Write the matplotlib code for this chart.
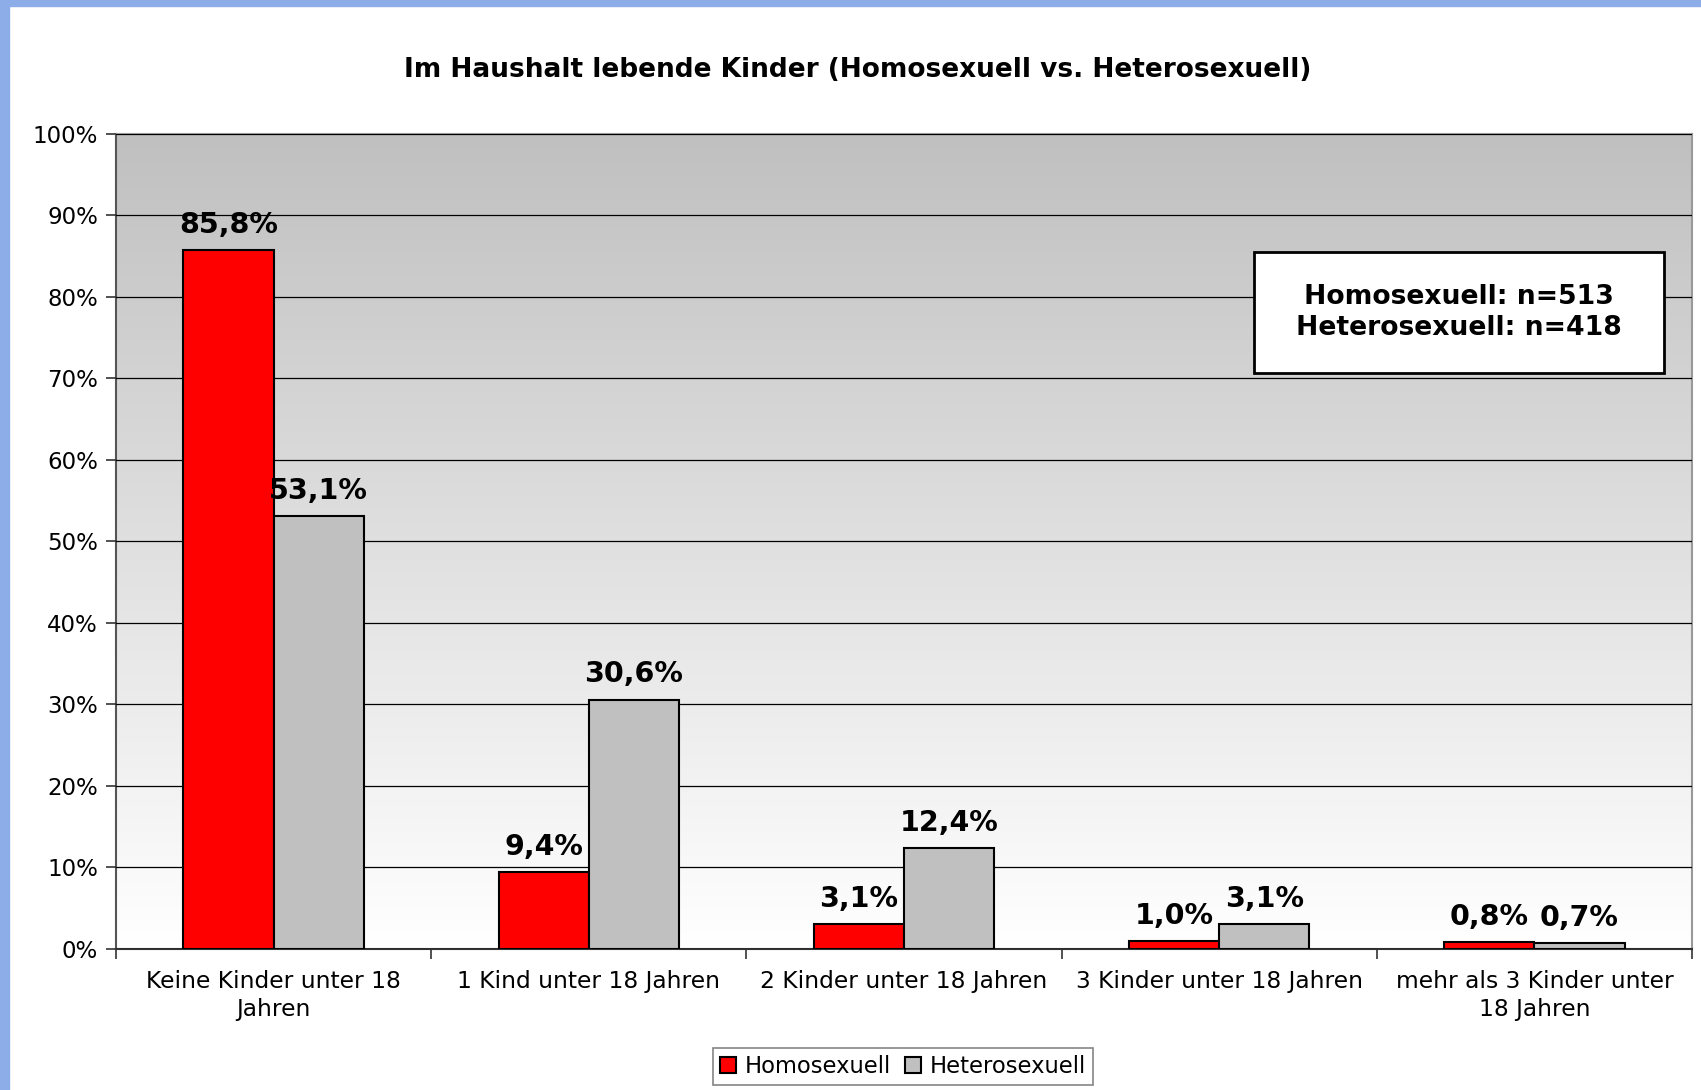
import numpy as np
import matplotlib
matplotlib.use("Agg")
from matplotlib import pyplot as plt
from matplotlib.patches import Rectangle

# data
categories = ["Keine Kinder unter 18\nJahren", "1 Kind unter 18 Jahren", "2 Kinder unter 18 Jahren",
              "3 Kinder unter 18 Jahren", "mehr als 3 Kinder unter\n18 Jahren"]
homo = [85.8, 9.4, 3.1, 1.0, 0.8]
hetero = [53.1, 30.6, 12.4, 3.1, 0.7]
series_names = ["Homosexuell", "Heterosexuell"]
n_text = "Homosexuell: n=513\nHeterosexuell: n=418"

plt.rcParams['font.family'] = ['DejaVu Sans']

fig = plt.figure(figsize=(17.01, 10.9), dpi=100)
ax = fig.add_axes([0.0682, 0.1294, 0.9265, 0.7477])

# blue frame at top and left
fig.patches.append(Rectangle((0, 1 - 6 / 1090), 1, 6 / 1090, transform=fig.transFigure,
                             color="#8dade8", zorder=0))
fig.patches.append(Rectangle((0, 0), 9 / 1701, 1, transform=fig.transFigure,
                             color="#8dade8", zorder=0))

# gradient background (grey top -> white bottom)
grad = np.linspace(1.0, 0.0, 256).reshape(-1, 1)
ax.imshow(grad, extent=[-0.5, 4.5, 0, 100], aspect="auto",
          cmap=matplotlib.colors.LinearSegmentedColormap.from_list("g", ["#ffffff", "#c0c0c0"]),
          origin="upper", zorder=0)
ax.set_xlim(-0.5, 4.5)
ax.set_ylim(0, 100)

x = np.arange(len(categories))
w = 0.286
b1 = ax.bar(x - w / 2, homo, w, color="#ff0000", edgecolor="black", linewidth=1.5, label=series_names[0], zorder=3)
b2 = ax.bar(x + w / 2, hetero, w, color="#c0c0c0", edgecolor="black", linewidth=1.5, label=series_names[1], zorder=3)

for bars, vals in ((b1, homo), (b2, hetero)):
    for r, v in zip(bars, vals):
        ax.annotate(("%.1f%%" % v).replace(".", ","), (r.get_x() + r.get_width() / 2, v),
                    xytext=(0, 8), textcoords="offset points", ha="center", va="bottom",
                    fontsize=20.5, fontweight="bold", zorder=5)

ax.set_yticks(np.arange(0, 101, 10))
ax.set_yticklabels(["%d%%" % t for t in range(0, 101, 10)], fontsize=16.5)
ax.yaxis.grid(True, color="black", linewidth=0.9, zorder=1)
ax.set_axisbelow(False)
for gl in ax.get_ygridlines():
    gl.set_zorder(1)

ax.set_xticks(x)
ax.set_xticklabels(categories, fontsize=16.8)
for lbl in ax.get_xticklabels():
    lbl.set_linespacing(1.3)
ax.tick_params(axis="x", length=0, pad=15)
ax.set_xticks(np.arange(-0.5, 4.6, 1), minor=True)
ax.tick_params(axis="x", which="minor", length=7, width=1.2, color="#333333")
ax.tick_params(axis="y", length=7, width=1.2, color="#333333", pad=6)

ax.spines["left"].set_color("#555555")
ax.spines["left"].set_linewidth(1.5)
ax.spines["bottom"].set_color("#333333")
ax.spines["bottom"].set_linewidth(1.5)
ax.spines["top"].set_color("#999999")
ax.spines["right"].set_color("#999999")
ax.spines["top"].set_linewidth(1.5)
ax.spines["right"].set_linewidth(1.5)

# sample size box
ax.add_patch(Rectangle((0.722, 0.707), 0.26, 0.148, transform=ax.transAxes,
                       facecolor="white", edgecolor="black", linewidth=2, zorder=6))
ax.text(0.852, 0.781, n_text, transform=ax.transAxes, ha="center", va="center",
        fontsize=19.2, fontweight="bold", linespacing=1.23, zorder=7)

fig.text(0.504, 0.936, "Im Haushalt lebende Kinder (Homosexuell vs. Heterosexuell)",
         ha="center", va="center", fontsize=19, fontweight="bold")

leg = fig.legend(handles=[b1, b2], labels=series_names, loc="center", bbox_to_anchor=(0.531, 0.0214),
                 ncol=2, fontsize=16.3, frameon=True, fancybox=False, edgecolor="#666666",
                 handlelength=0.7, handleheight=0.7, handletextpad=0.4, columnspacing=0.6,
                 borderpad=0.3, borderaxespad=0)
leg.get_frame().set_linewidth(1.2)

fig.savefig("out.png", dpi=100)
